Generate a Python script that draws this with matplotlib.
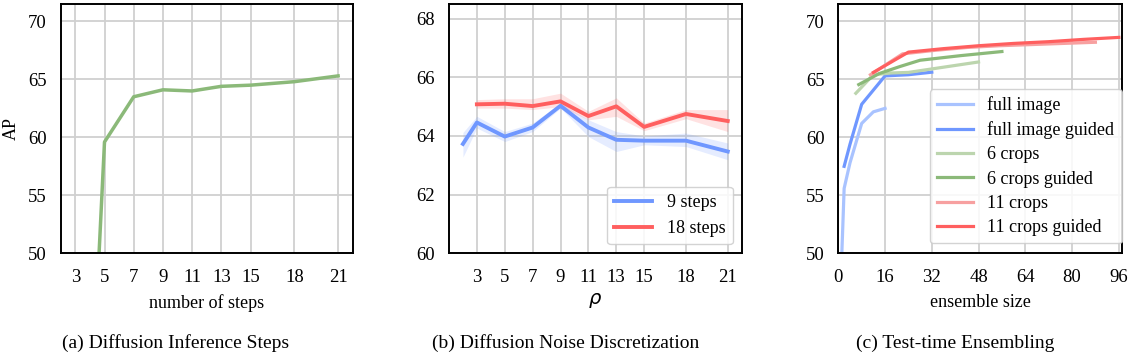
import numpy as np
import matplotlib.pyplot as plt

plt.rcParams['font.family'] = ['Liberation Serif', 'DejaVu Serif']
plt.rcParams['mathtext.fontset'] = 'dejavusans'
plt.rcParams['font.size'] = 13

# (a) number of inference steps
steps = [3, 5, 7, 9, 11, 13, 15, 18, 21]
steps_ap = [8.0, 59.6, 63.5, 64.1, 64.0, 64.4, 64.5, 64.8, 65.3]

# (b) rho, mean with band
rho_ticks = [3, 5, 7, 9, 11, 13, 15, 18, 21]
rho_9 = [2, 3, 5, 7, 9, 11, 13, 15, 18, 21]
ap_9 = [63.73, 64.46, 63.98, 64.29, 65.03, 64.29, 63.87, 63.84, 63.84, 63.47]
lo_9 = [63.28, 64.27, 63.81, 64.15, 64.95, 63.98, 63.47, 63.70, 63.64, 63.19]
hi_9 = [64.12, 64.67, 64.15, 64.44, 65.12, 64.55, 64.15, 64.00, 64.10, 63.76]
rho_18 = [3, 5, 7, 9, 11, 13, 15, 18, 21]
ap_18 = [65.08, 65.10, 65.02, 65.18, 64.68, 65.01, 64.31, 64.75, 64.51]
lo_18 = [64.95, 64.95, 64.90, 65.00, 64.55, 64.67, 64.18, 64.59, 64.15]
hi_18 = [65.24, 65.27, 65.27, 65.46, 64.84, 65.30, 64.44, 64.90, 64.90]

# (c) ensemble size
full_x = [1, 2, 4, 8, 12, 16]
full_y = [48.5, 55.6, 57.8, 61.2, 62.2, 62.5]
fullg_x = [2, 4, 8, 16, 24, 32]
fullg_y = [57.5, 59.4, 62.85, 65.3, 65.4, 65.62]
c6_x = [6, 12, 18, 24, 36, 48]
c6_y = [63.8, 65.4, 65.55, 65.6, 66.05, 66.5]
c6g_x = [7, 14, 21, 28, 42, 56]
c6g_y = [64.55, 65.5, 66.1, 66.65, 67.05, 67.4]
c11_x = [11, 22, 33, 44, 55, 66, 77, 88]
c11_y = [65.4, 67.2, 67.5, 67.75, 67.9, 68.0, 68.1, 68.2]
c11g_x = [12, 24, 36, 48, 60, 72, 84, 96]
c11g_y = [65.6, 67.35, 67.65, 67.9, 68.1, 68.25, 68.45, 68.62]
ens_ticks = [0, 16, 32, 48, 64, 80, 96]

BLUE, LBLUE = '#6f97ff', '#a9c3ff'
GREEN, LGREEN = '#8bb979', '#bcd5ae'
RED, LRED = '#ff5f5f', '#f7a0a0'

fig = plt.figure(figsize=(11.34, 3.56), dpi=100)
W, H = 1134, 356
bot, top = 1 - 253.3 / H, 1 - 4 / H
ax1 = fig.add_axes([60.7 / W, bot, (352.7 - 60.7) / W, top - bot])
ax2 = fig.add_axes([449 / W, bot, (741.7 - 449) / W, top - bot])
ax3 = fig.add_axes([838.3 / W, bot, (1121.7 - 838.3) / W, top - bot])

for ax in (ax1, ax2, ax3):
    ax.grid(True, color='#d0d0d0', lw=1.3)
    ax.set_axisbelow(True)
    ax.tick_params(axis='x', length=0, pad=11, labelsize=13.5)
    ax.tick_params(axis='y', length=0, pad=10, labelsize=13.5)
    for s in ax.spines.values():
        s.set_color('black')
        s.set_linewidth(1.4)

ax1.plot(steps, steps_ap, color=GREEN, lw=2.5)
ax1.set_xlim(2, 22)
ax1.set_ylim(50, 71.5)
ax1.set_xticks(steps)
ax1.set_yticks([50, 55, 60, 65, 70])
ax1.set_xlabel('number of steps', fontsize=13, labelpad=6)
ax1.set_ylabel('AP', fontsize=13, labelpad=6)

ax2.fill_between(rho_9, lo_9, hi_9, color=BLUE, alpha=0.18, lw=0)
ax2.fill_between(rho_18, lo_18, hi_18, color=RED, alpha=0.18, lw=0)
ax2.plot(rho_9, ap_9, color=BLUE, lw=2.8, label='9 steps')
ax2.plot(rho_18, ap_18, color=RED, lw=2.8, label='18 steps')
ax2.set_xlim(1, 22)
ax2.set_ylim(60, 68.5)
ax2.set_xticks(rho_ticks)
ax2.set_yticks([60, 62, 64, 66, 68])
ax2.set_xlabel(r'$\rho$', fontsize=14, labelpad=4)
ax2.legend(loc='lower right', fontsize=13, handlelength=2.1, borderaxespad=0.5,
           edgecolor='#cccccc', fancybox=True, framealpha=0.85)

ax3.plot(full_x, full_y, color=LBLUE, lw=2.3, label='full image')
ax3.plot(fullg_x, fullg_y, color=BLUE, lw=2.3, label='full image guided')
ax3.plot(c6_x, c6_y, color=LGREEN, lw=2.3, label='6 crops')
ax3.plot(c6g_x, c6g_y, color=GREEN, lw=2.3, label='6 crops guided')
ax3.plot(c11_x, c11_y, color=LRED, lw=2.3, label='11 crops')
ax3.plot(c11g_x, c11g_y, color=RED, lw=2.3, label='11 crops guided')
ax3.set_xlim(0, 97)
ax3.set_ylim(50, 71.5)
ax3.set_xticks(ens_ticks)
ax3.set_yticks([50, 55, 60, 65, 70])
ax3.set_xlabel('ensemble size', fontsize=13, labelpad=6)
ax3.legend(loc='lower right', bbox_to_anchor=(1.0, 0.04), fontsize=13, handlelength=2.0,
           borderaxespad=0, edgecolor='#cccccc', fancybox=True, framealpha=0.85,
           labelspacing=0.4)

fig.text(176 / W, 1 - 343 / H, '(a) Diffusion Inference Steps', ha='center', va='center', fontsize=14)
fig.text(566 / W, 1 - 343 / H, '(b) Diffusion Noise Discretization', ha='center', va='center', fontsize=14)
fig.text(955 / W, 1 - 343 / H, '(c) Test-time Ensembling', ha='center', va='center', fontsize=14)

fig.savefig('out.png', dpi=100)
